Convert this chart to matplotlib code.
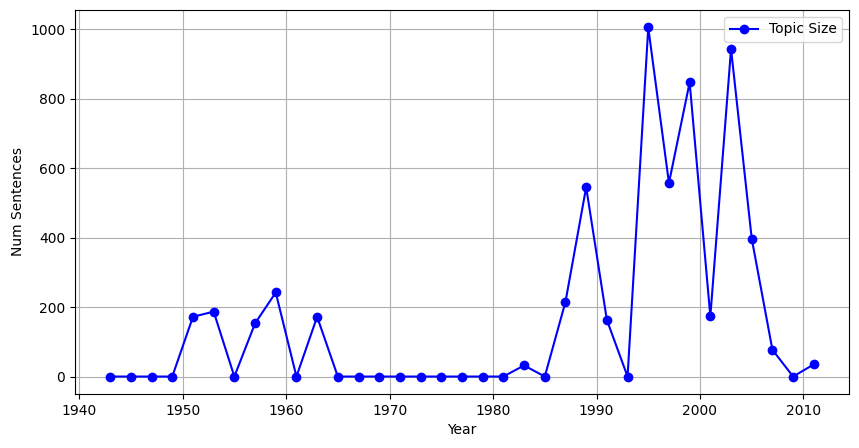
import matplotlib
matplotlib.use("Agg")
import matplotlib.pyplot as plt

years = list(range(1943, 2012, 2))
sizes = [0, 0, 0, 0, 172, 187, 0, 153, 242, 0, 172, 0, 0, 0, 0, 0, 0, 0, 0, 0,
         32, 0, 215, 545, 163, 0, 1005, 557, 847, 173, 943, 397, 77, 0, 35]

fig = plt.figure(figsize=(8.59, 4.48), dpi=100)
ax = fig.add_axes([75/859, 54/448, (849-75)/859, (438-54)/448])
ax.plot(years, sizes, marker='o', color='blue', label='Topic Size')
ax.set_xlabel('Year')
ax.set_ylabel('Num Sentences')
ax.grid(True)
ax.legend(loc='upper right')
fig.savefig('out.png', dpi=100)
